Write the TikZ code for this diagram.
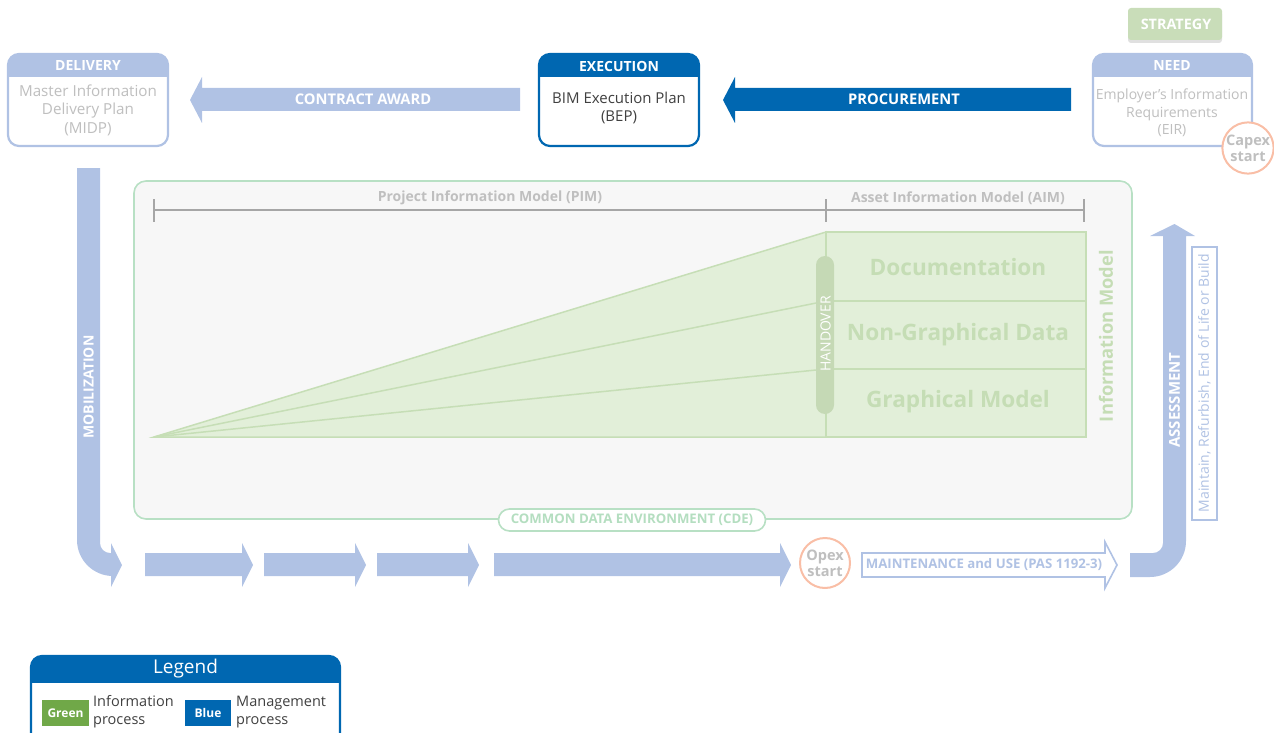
\documentclass[tikz,border=0pt]{standalone}
\usepackage{fontspec}
\setmainfont{Open Sans}
\usetikzlibrary{calc}
\definecolor{blueL}{RGB}{176,194,228}
\definecolor{blueD}{RGB}{0,103,177}
\definecolor{greyT}{RGB}{191,191,191}
\definecolor{greyL}{RGB}{166,166,166}
\definecolor{greenF}{RGB}{226,239,217}
\definecolor{greenL}{RGB}{198,222,182}
\definecolor{greenT}{RGB}{197,221,181}
\definecolor{greenH}{RGB}{197,217,181}
\definecolor{cdeB}{RGB}{184,224,196}
\definecolor{cdeT}{RGB}{180,222,192}
\definecolor{cdeF}{RGB}{247,247,247}
\definecolor{orangeC}{RGB}{249,190,166}
\definecolor{stratF}{RGB}{201,221,185}
\definecolor{legG}{RGB}{112,168,72}
\definecolor{darkT}{RGB}{64,64,64}
\tikzset{
  hdr/.style={text=white, font=\fontsize{14}{16}\selectfont\bfseries, inner sep=0pt},
  gtxt/.style={text=greyT, align=center, inner sep=0pt},
  arrowtxt/.style={text=white, font=\fontsize{14.7}{17}\selectfont\bfseries, inner sep=0pt},
  blocktxt/.style={text=greenT, font=\fontsize{22.6}{26}\selectfont\bfseries, inner sep=0pt},
  circtxt/.style={circle, draw=orangeC, line width=2pt, fill=white, minimum size=50pt, inner sep=0pt, text=greyT, align=center, font=\fontsize{14.5}{16}\selectfont\bfseries},
  dimline/.style={draw=greyL, line width=1.2pt},
  dimtxt/.style={text=greyT, font=\fontsize{14}{16}\selectfont\bfseries, inner sep=0pt},
  vtxt/.style={text=white, font=\fontsize{#1}{16}\selectfont\bfseries, rotate=90, inner sep=0pt},
  legtxt/.style={text=darkT, align=left, font=\fontsize{14.5}{18}\selectfont, inner sep=0pt, anchor=west},
  legbox/.style={minimum width=47pt, minimum height=26pt, inner sep=0pt, text=white, font=\fontsize{12}{14}\selectfont\bfseries},
}
\begin{document}
\begin{tikzpicture}[x=1pt,y=-1pt]
\useasboundingbox (0,0) rectangle (1274,733);
\clip (0,0) rectangle (1274,733);

% ---------- CDE container ----------
\draw[draw=cdeB, fill=cdeF, line width=1.6pt, rounded corners=12] (134,181) rectangle (1132,519);

% dimension lines
\draw[dimline] (154,210) -- (1084,210);
\draw[dimline] (154,199) -- (154,222);
\draw[dimline] (826,199) -- (826,222);
\draw[dimline] (1084,199) -- (1084,222);
\node[dimtxt] (pim) at (490,198) {Project Information Model (PIM)};
\node[dimtxt] (aim) at (958,198) {Asset Information Model (AIM)};

% wedge
\coordinate (apex) at (154,437);
\draw[draw=greenL, fill=greenF, line width=1.5pt] (apex) -- (826,232) -- (826,437) -- cycle;
\draw[draw=greenL, line width=1.5pt] (apex) -- (826,301);
\draw[draw=greenL, line width=1.5pt] (apex) -- (826,369);
% block
\draw[draw=greenL, fill=greenF, line width=1.5pt] (826,232) rectangle (1086,437);
\draw[draw=greenL, line width=1.5pt] (826,301) -- (1086,301);
\draw[draw=greenL, line width=1.5pt] (826,369) -- (1086,369);
\node[blocktxt] (doc) at (958,267) {Documentation};
\node[blocktxt] (ngd) at (958,335) {Non-Graphical Data};
\node[blocktxt] (gm) at (958,402) {Graphical Model};
\node[text=greenT, font=\fontsize{18.3}{20}\selectfont\bfseries, rotate=90, inner sep=0pt] (im) at (1106,336) {Information Model};
% handover
\fill[greenH, rounded corners=9] (816,256) rectangle (834,414);
\node[text=white, font=\fontsize{14}{16}\selectfont, rotate=90, inner sep=0pt] (hand) at (825.5,334) {HANDOVER};

% CDE label
\node[draw=cdeB, fill=white, line width=1.6pt, rounded corners=11, minimum width=267pt, minimum height=22pt, inner sep=0pt, text=cdeT, font=\fontsize{13.2}{15}\selectfont\bfseries] (cde) at (632,520) {COMMON DATA ENVIRONMENT (CDE)};

% ---------- top boxes ----------
% DELIVERY
\begin{scope}
\clip[rounded corners=11] (8,54) rectangle (168,146);
\fill[white] (8,54) rectangle (168,146);
\fill[blueL] (8,54) rectangle (168,77);
\end{scope}
\draw[blueL, line width=2.2pt, rounded corners=11] (8,54) rectangle (168,146);
\node[hdr] (delivery) at (88,66) {DELIVERY};
\node[gtxt, font=\fontsize{15.2}{18.5}\selectfont] (midp) at (88,110) {Master Information\\Delivery Plan\\(MIDP)};

% EXECUTION
\begin{scope}
\clip[rounded corners=11] (539,54) rectangle (699,146);
\fill[white] (539,54) rectangle (699,146);
\fill[blueD] (539,54) rectangle (699,77);
\end{scope}
\draw[blueD, line width=2.2pt, rounded corners=11] (539,54) rectangle (699,146);
\node[hdr] (execution) at (619,66) {EXECUTION};
\node[gtxt, text=darkT, font=\fontsize{15}{18}\selectfont] (bep) at (619,108) {BIM Execution Plan\\(BEP)};

% NEED
\begin{scope}
\clip[rounded corners=11] (1093,54) rectangle (1252,146);
\fill[white] (1093,54) rectangle (1252,146);
\fill[blueL] (1093,54) rectangle (1252,77);
\end{scope}
\draw[blueL, line width=2.2pt, rounded corners=11] (1093,54) rectangle (1252,146);
\node[hdr] (need) at (1172,66) {NEED};
\node[gtxt, font=\fontsize{14}{17.5}\selectfont] (eir) at (1172,113) {Employer's Information\\Requirements\\(EIR)};

% STRATEGY
\fill[black!12, rounded corners=3] (1128,11) rectangle (1222,43);
\fill[stratF, rounded corners=3] (1128,8) rectangle (1222,40);
\node[hdr, font=\fontsize{14.4}{16}\selectfont\bfseries] (strategy) at (1176,24) {STRATEGY};

% Capex start
\node[circtxt, minimum size=48pt] (capex) at (1248,148) {Capex\\start};

% ---------- top arrows ----------
\fill[blueL] (520,88) -- (202,88) -- (202,77) -- (190,100) -- (202,123) -- (202,111) -- (520,111) -- cycle;
\node[arrowtxt] (award) at (363,99.5) {CONTRACT AWARD};
\fill[blueD] (1071,88) -- (735,88) -- (735,77) -- (723,100) -- (735,123) -- (735,111) -- (1071,111) -- cycle;
\node[arrowtxt] (procure) at (904,99.5) {PROCUREMENT};

% ---------- mobilization ----------
\fill[blueL] (77,168) -- (100,168) -- (100,543) arc[start angle=180, end angle=90, radius=10] -- (111,553) -- (111,543) -- (122,565) -- (111,587) -- (111,576) -- (113,576) arc[start angle=90, end angle=180, radius=36] -- cycle;
\node[vtxt=14] (mob) at (88.5,387) {MOBILIZATION};

% bottom arrows
\fill[blueL] (145,553) -- (242,553) -- (242,543) -- (253,565) -- (242,587) -- (242,576) -- (145,576) -- cycle;
\fill[blueL] (264,553) -- (355,553) -- (355,543) -- (366,565) -- (355,587) -- (355,576) -- (264,576) -- cycle;
\fill[blueL] (377,553) -- (468,553) -- (468,543) -- (479,565) -- (468,587) -- (468,576) -- (377,576) -- cycle;
\fill[blueL] (494,553) -- (780,553) -- (780,543) -- (791,565) -- (780,587) -- (780,576) -- (494,576) -- cycle;

% Opex start
\node[circtxt, minimum size=50pt] (opex) at (825,563) {Opex\\start};

% maintenance
\draw[blueL, fill=white, line width=1.6pt] (862,553) -- (1105,553) -- (1105,542) -- (1117,565) -- (1105,588) -- (1105,577) -- (862,577) -- cycle;
\node[text=blueL, font=\fontsize{13.2}{15}\selectfont\bfseries, inner sep=0pt] (maint) at (984,565) {MAINTENANCE and USE (PAS 1192-3)};

% assessment
\fill[blueL] (1130,553) -- (1153,553) arc[start angle=90, end angle=0, radius=10] -- (1163,236) -- (1150,236) -- (1174.5,224) -- (1195,236) -- (1186,236) -- (1186,541) arc[start angle=0, end angle=90, radius=36] -- (1130,577) -- cycle;
\node[vtxt=15] (assess) at (1174.5,400) {ASSESSMENT};

\draw[blueL, fill=white, line width=1.5pt] (1192,247) rectangle (1217,520);
\node[text=blueL, font=\fontsize{14}{16}\selectfont, rotate=90, inner sep=0pt] (mrb) at (1204.5,383) {Maintain, Refurbish, End of Life or Build};

% ---------- legend ----------
\begin{scope}
\clip[rounded corners=11] (31,656) rectangle (340,745);
\fill[white] (31,656) rectangle (340,745);
\fill[blueD] (31,656) rectangle (340,683);
\end{scope}
\draw[blueD, line width=2.2pt, rounded corners=11] (31,656) rectangle (340,745);
\node[text=white, font=\fontsize{19}{21}\selectfont, inner sep=0pt] (legend) at (185.5,669) {Legend};
\node[legbox, fill=legG] (lgreen) at (65.5,713) {Green};
\node[legtxt] (linfo) at (93,712) {Information\\process};
\node[legbox, fill=blueD, minimum width=46pt] (lblue) at (208,713) {Blue};
\node[legtxt] (lman) at (236,712) {Management\\process};
\end{tikzpicture}
\end{document}
